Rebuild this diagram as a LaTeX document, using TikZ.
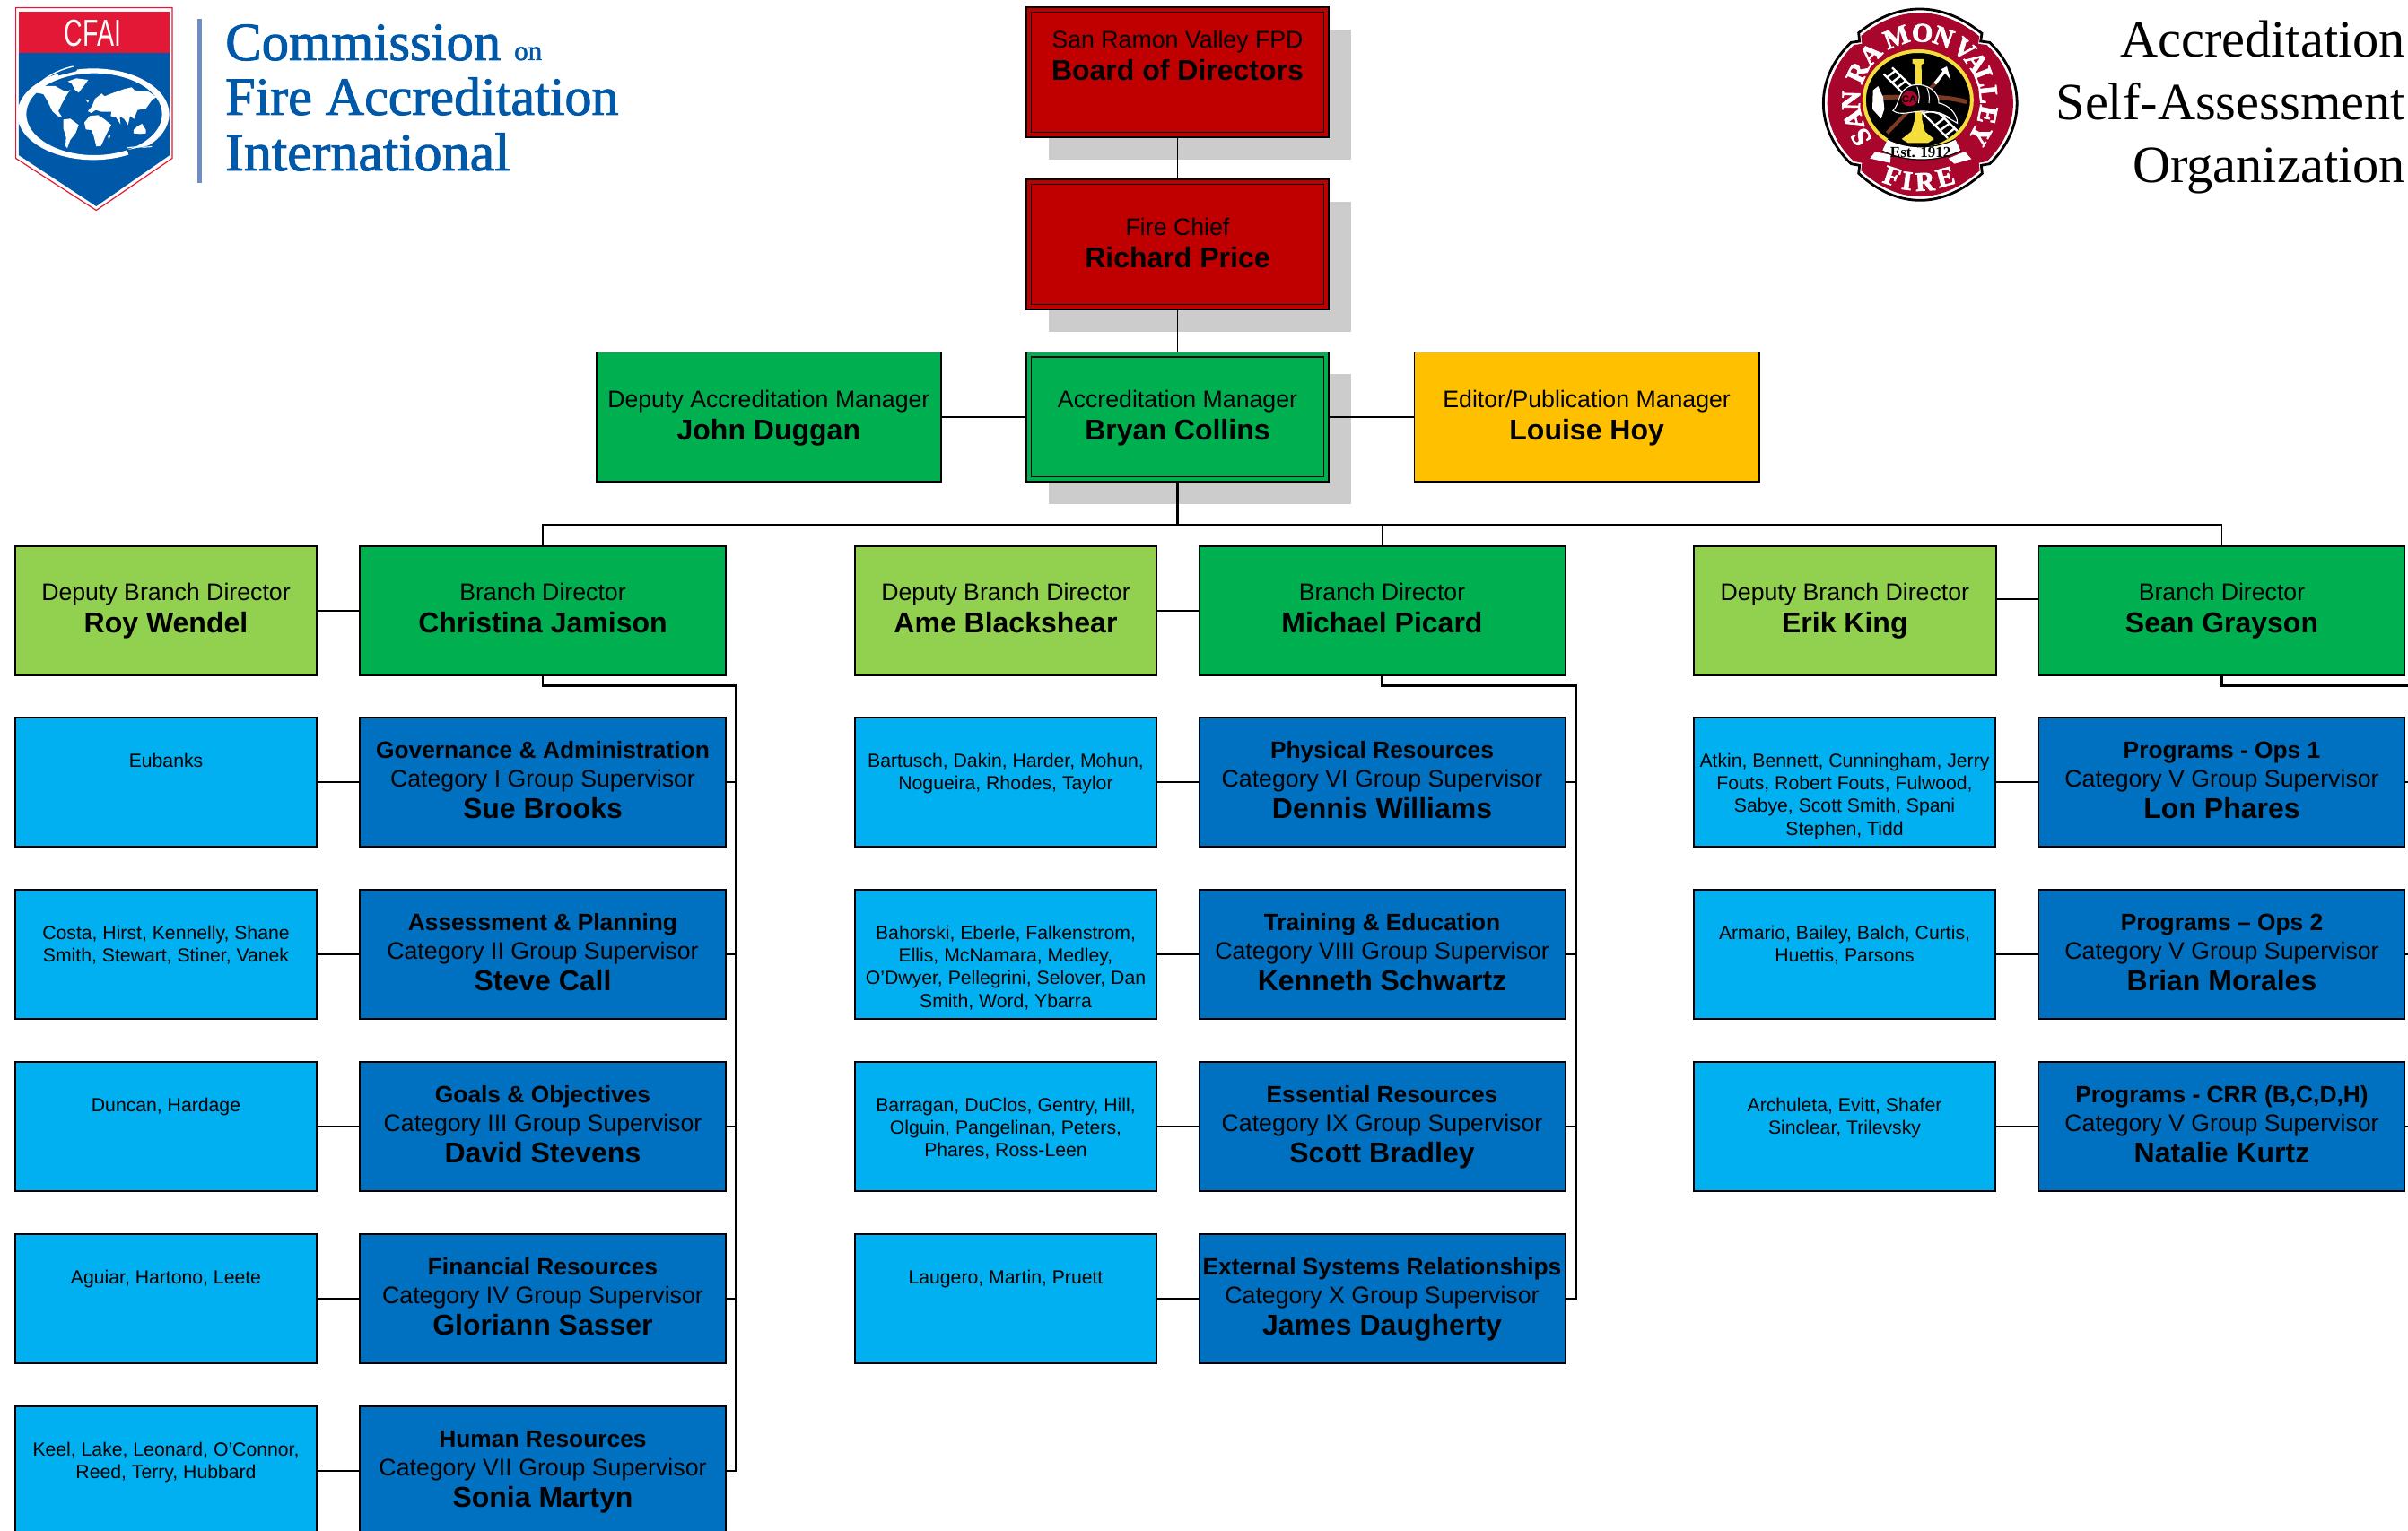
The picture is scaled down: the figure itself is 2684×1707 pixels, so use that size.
\documentclass[tikz,border=0pt]{standalone}
\usepackage{fontspec}
\usepackage{graphicx}
\usetikzlibrary{backgrounds}
\setmainfont{Liberation Sans}
\newfontfamily\serifface{Liberation Serif}
\newfontfamily\cfaiface[FakeBold=1.6]{Liberation Serif}
\newfontfamily\sealface[FakeBold=2.5]{Liberation Serif Bold}
\definecolor{chiefred}{HTML}{C00000}
\definecolor{mgrgreen}{HTML}{00B050}
\definecolor{depgreen}{HTML}{92D050}
\definecolor{supblue}{HTML}{0070C0}
\definecolor{teamblue}{HTML}{00B0F0}
\definecolor{edyellow}{HTML}{FFC000}
\definecolor{shadowgrey}{HTML}{CCCCCC}
\definecolor{cfaired}{HTML}{E31837}
\definecolor{cfaiblue}{HTML}{0058A8}
\definecolor{cfaibar}{HTML}{6F8CC4}
\definecolor{sealred}{HTML}{A8062C}
\definecolor{sealyellow}{HTML}{F5DE3C}
\definecolor{sealbrown}{HTML}{7A3B22}
\newcommand\fsmall{\fontsize{26.7}{36}\selectfont}
\newcommand\fbig{\fontsize{32}{36}\selectfont\bfseries}
\newcommand\TwoLine[5]{\parbox[c][#2pt][t]{#1pt}{\centering\rule{0pt}{#3pt}{\fsmall #4\par}{\fbig #5\par}}}
\newcommand\ThreeLine[3]{\parbox[c][144pt][t]{408pt}{\centering\rule{0pt}{45pt}{\fontsize{26.35}{32}\selectfont\bfseries #1\par}{\fontsize{26.7}{32}\selectfont #2\par}{\fontsize{32}{35.5}\selectfont\bfseries #3\par}}}
\newcommand\NameList[1]{\parbox[c][144pt][t]{336pt}{\centering\rule{0pt}{55pt}\fontsize{21.2}{25.4}\selectfont #1\par}}
\newcommand\sealshape{(140,110) .. controls (270,3) and (420,3) .. (552,112) -- (548,138) -- (578,142) .. controls (700,260) and (700,430) .. (578,548) -- (550,553) -- (553,580) .. controls (420,700) and (270,700) .. (140,580) -- (143,553) -- (115,548) .. controls (-9,430) and (-9,260) .. (115,142) -- (143,138) -- cycle}
\tikzset{
  orgbox/.style={rectangle,draw=black,line width=1.7pt,inner sep=0pt,outer sep=0pt,anchor=north west,text=black},
  topbox/.style={orgbox,fill=chiefred},
  ambox/.style={orgbox,fill=mgrgreen},
  branchbox/.style={orgbox,fill=mgrgreen},
  deputybox/.style={orgbox,fill=depgreen},
  editorbox/.style={orgbox,fill=edyellow},
  supbox/.style={orgbox,fill=supblue},
  teambox/.style={orgbox,fill=teamblue},
  conn/.style={draw=black,line width=1.8pt},
  trunk/.style={draw=black,line width=2.2pt},
  inner frame/.style={draw=black,line width=1.5pt},
  shadowfill/.style={fill=shadowgrey},
  cfaitext/.style={inner sep=0pt,anchor=base west,text=cfaiblue,font=\cfaiface\fontsize{60}{60}\selectfont},
  titletext/.style={inner sep=0pt,anchor=base east,font=\serifface\fontsize{58.4}{58}\selectfont},
  sealletter/.style={inner sep=0pt,text=white,font=\sealface\fontsize{30}{30}\selectfont},
}
\begin{document}
\begin{tikzpicture}[x=1pt,y=-1pt]
\path[use as bounding box,clip] (0,0) rectangle (2684,1707);

% ---------- CFAI logo ----------
\draw[cfaired,line width=1.2pt,fill=white] (17.6,8.5) -- (192,8.5) -- (192,176.5) -- (107.3,234.5) -- (17.6,176.5) -- cycle;
\fill[cfaiblue] (20.8,59) -- (189.2,59) -- (189.2,173) -- (107.3,230) -- (20.8,173) -- cycle;
\fill[cfaired] (20.8,13) rectangle (189.2,59);
\node[inner sep=0pt,text=white,font=\fontsize{42}{42}\selectfont] (cfaimark) at (103.5,36.7) {\scalebox{0.68}[1]{CFAI}};
\begin{scope}[shift={(10,50)},x=0.33333pt,y=-0.33333pt]
  \fill[white,even odd rule] (282,232) ellipse (254 and 153) (285,232) ellipse (227 and 137);
  \fill[cfaiblue] (170,68) -- (240,60) -- (225,88) -- (165,103) -- cycle;
  \fill[cfaiblue] (395,352) -- (500,330) -- (480,375) -- (410,395) -- cycle;
  \draw[white,line width=1.1pt] (395,345) .. controls (425,338) and (455,345) .. (478,340);
  \draw[white,line width=1.4pt] (100,130) .. controls (140,95) and (180,80) .. (215,72);
  \fill[white] (85,155) -- (110,138) -- (155,138) -- (180,152) -- (195,157) -- (205,150) -- (192,170) -- (178,195) -- (165,222) -- (178,243) -- (163,238) -- (145,222) -- (130,190) -- (115,165) -- (90,160) -- cycle;
  \fill[white] (197,122) -- (225,112) -- (265,117) -- (252,135) -- (233,160) -- (220,150) -- (210,130) -- cycle;
  \fill[white] (182,250) -- (205,247) -- (233,268) -- (223,295) -- (205,318) -- (195,346) -- (189,338) -- (191,310) -- (182,280) -- cycle;
  \fill[white] (252,260) -- (270,238) -- (298,235) -- (318,248) -- (342,268) -- (333,285) -- (323,305) -- (308,338) -- (292,340) -- (282,300) -- (275,285) -- (257,283) -- cycle;
  \fill[white] (264,222) -- (278,205) -- (288,180) -- (310,163) -- (320,172) -- (345,162) -- (385,148) -- (410,142) -- (420,152) -- (468,157) -- (492,175) -- (478,185) -- (458,213) -- (430,218) -- (418,248) -- (405,238) -- (398,268) -- (385,248) -- (370,238) -- (373,266) -- (358,243) -- (340,238) -- (343,224) -- (310,224) -- (290,218) -- (275,228) -- cycle;
  \fill[white] (417,285) -- (430,272) -- (445,264) -- (458,285) -- (458,296) -- (440,298) -- (417,296) -- cycle;
  \fill[white] (331,305) -- (339,303) -- (334,323) -- cycle;
  \fill[white] (256,182) -- (267,186) -- (264,194) -- cycle;
\end{scope}
\fill[cfaibar] (220,21) rectangle (224.5,204);
\node[cfaitext] (cfai1) at (251,67) {\scalebox{1.012}[1]{Commission}};
\node[inner sep=0pt,anchor=base west,text=cfaiblue,font=\cfaiface\fontsize{31}{31}\selectfont] (cfai1b) at (573,67) {on};
\node[cfaitext] (cfai2) at (251,128) {Fire Accreditation};
\node[cfaitext] (cfai3) at (251,190) {\scalebox{1.035}[1]{International}};

% ---------- Seal ----------
\begin{scope}[shift={(2025,0)},x=0.33333pt,y=-0.33333pt]
  \draw[black,line width=2.8pt,fill=white] \sealshape;
  \begin{scope}[shift={(347,350)},scale=0.96,shift={(-347,-350)}]
    \fill[sealred] \sealshape;
  \end{scope}
  \draw[sealyellow,line width=4pt,fill=black] (338.5,335) ellipse (180 and 164);
  \draw[sealbrown,line width=5pt,line cap=round] (225,325) .. controls (320,325) and (420,318) .. (497,340);
  \draw[sealbrown,line width=4pt] (235,445) -- (400,275);
  \draw[white,line width=3.5pt] (395,280) -- (430,235);
  \fill[white] (415,232) -- (435,222) -- (448,268) -- (432,248) -- cycle;
  \fill[white] (205,288) -- (188,302) -- (186,365) -- (215,397) -- (226,365) -- (222,325) -- cycle;
  \draw[white,line width=2.4pt] (224,248) -- (438,462);
  \draw[white,line width=2.4pt] (252,226) -- (470,438);
  \foreach \t in {0.05,0.13,0.21,0.80,0.88,0.96}{
    \draw[white,line width=2.4pt] ({224+\t*214},{248+\t*214}) -- ({252+\t*218},{226+\t*212});
  }
  \fill[sealyellow] (320,198) -- (358,198) -- (358,212) -- (350,216) -- (352,400) -- (362,440) -- (392,465) -- (372,478) -- (305,478) -- (284,465) -- (316,440) -- (328,400) -- (330,216) -- (320,212) -- cycle;
  \draw[white,line width=1.1pt,fill=black] (255,370) .. controls (280,345) and (268,300) .. (320,285) .. controls (370,275) and (410,310) .. (408,345) .. controls (440,350) and (470,380) .. (470,412) .. controls (440,395) and (410,375) .. (360,372) .. controls (320,370) and (280,390) .. (255,370) -- cycle;
  \fill[sealred] (310,330) ellipse (27 and 25);
  \node[inner sep=0pt,text=black,font=\bfseries\fontsize{11}{11}\selectfont] (sealca) at (309,331) {CA};
  \draw[white,line width=1pt] (340,345) .. controls (345,320) and (340,300) .. (335,290);
  \draw[white,line width=1pt] (375,345) .. controls (378,325) and (375,305) .. (368,293);
  \draw[white,line width=1.4pt] (360,378) .. controls (395,368) and (420,380) .. (445,395);
  \fill[white] (178,530) -- (195,508) -- (248,518) -- (245,545) -- cycle;
  \fill[white] (440,530) -- (495,507) -- (517,532) -- (460,548) -- cycle;
  \draw[black,line width=15.5pt] (228,485) .. controls (300,522) and (400,522) .. (472,485);
  \draw[white,line width=13pt] (228,485) .. controls (300,522) and (400,522) .. (472,485);
  \node[inner sep=0pt,text=black,font=\serifface\bfseries\fontsize{17}{17}\selectfont] (sealest) at (347,511) {Est. 1912};
  \foreach \l/\a in {S/211,A/195,N/179,R/155,A/136,M/110,O/88,N/70,V/50,A/35,L/21,L/6,E/-11,Y/-29}{
    \node[sealletter,rotate=\a-90] at ({345+230*cos(\a)},{340-230*sin(\a)}) {\l};
  }
  \node[sealletter,rotate=-18] (fire1) at (252,590) {F};
  \node[sealletter,rotate=-7] (fire2) at (302,605) {I};
  \node[sealletter,rotate=3] (fire3) at (362,608) {R};
  \node[sealletter,rotate=15] (fire4) at (430,592) {E};
\end{scope}
\node[titletext] (title1) at (2681,63.5) {Accreditation};
\node[titletext] (title2) at (2681,133.5) {Self-Assessment};
\node[titletext] (title3) at (2681,203.5) {Organization};

% ---------- Top of the chart ----------
\node[topbox] (bod) at (1144,8) {\TwoLine{337}{145}{46}{San Ramon Valley FPD}{Board of Directors}};
\node[topbox] (chief) at (1144,200) {\TwoLine{337}{145}{62}{Fire Chief}{Richard Price}};
\node[ambox] (am) at (1144,392.5) {\TwoLine{337}{144.5}{61.5}{Accreditation Manager}{Bryan Collins}};
\node[deputybox,fill=mgrgreen] (dam) at (664.7,392.5) {\TwoLine{384.3}{144.5}{61.5}{Deputy Accreditation Manager}{John Duggan}};
\node[editorbox] (ed) at (1576.5,392.5) {\TwoLine{384.3}{144.5}{61.5}{Editor/Publication Manager}{Louise Hoy}};

\foreach \b in {bod,chief,am}{
  \draw[inner frame] ([shift={(5.3,5.3)}]\b.north west) rectangle ([shift={(-5.3,-5.3)}]\b.south east);
}
\begin{scope}[on background layer]
  \fill[white] (0,0) rectangle (2684,1707);
  \foreach \b in {bod,chief,am}{
    \fill[shadowfill] ([shift={(24.7,24.7)}]\b.north west) rectangle ([shift={(24.7,24.7)}]\b.south east);
  }
\end{scope}

% ---------- Branches ----------
\node[deputybox] (dep1) at (17,609) {\TwoLine{336}{144}{60.5}{Deputy Branch Director}{Roy Wendel}};
\node[branchbox] (br1) at (401,609) {\TwoLine{408}{144}{60.5}{Branch Director}{Christina Jamison}};
\node[deputybox] (dep2) at (953,609) {\TwoLine{336}{144}{60.5}{Deputy Branch Director}{Ame Blackshear}};
\node[branchbox] (br2) at (1336.5,609) {\TwoLine{408}{144}{60.5}{Branch Director}{Michael Picard}};
\node[deputybox] (dep3) at (1888,609) {\TwoLine{336.7}{144}{60.5}{Deputy Branch Director}{Erik King}};
\node[branchbox] (br3) at (2272.5,609) {\TwoLine{408}{144}{60.5}{Branch Director}{Sean Grayson}};

% ---------- Column 1 ----------
\node[teambox] (n11) at (17,800) {\NameList{Eubanks}};
\node[teambox] (n12) at (17,992) {\NameList{Costa, Hirst, Kennelly, Shane\\Smith, Stewart, Stiner, Vanek}};
\node[teambox] (n13) at (17,1184) {\NameList{Duncan, Hardage}};
\node[teambox] (n14) at (17,1376) {\NameList{Aguiar, Hartono, Leete}};
\node[teambox] (n15) at (17,1568) {\NameList{Keel, Lake, Leonard, O’Connor,\\Reed, Terry, Hubbard}};
\node[supbox] (s11) at (401,800) {\ThreeLine{Governance \& Administration}{Category I Group Supervisor}{Sue Brooks}};
\node[supbox] (s12) at (401,992) {\ThreeLine{Assessment \& Planning}{Category II Group Supervisor}{Steve Call}};
\node[supbox] (s13) at (401,1184) {\ThreeLine{Goals \& Objectives}{Category III Group Supervisor}{David Stevens}};
\node[supbox] (s14) at (401,1376) {\ThreeLine{Financial Resources}{Category IV Group Supervisor}{Gloriann Sasser}};
\node[supbox] (s15) at (401,1568) {\ThreeLine{Human Resources}{Category VII Group Supervisor}{Sonia Martyn}};

% ---------- Column 2 ----------
\node[teambox] (n21) at (953,800) {\NameList{Bartusch, Dakin, Harder, Mohun,\\Nogueira, Rhodes, Taylor}};
\node[teambox] (n22) at (953,992) {\NameList{Bahorski, Eberle, Falkenstrom,\\Ellis, McNamara, Medley,\\O’Dwyer, Pellegrini, Selover, Dan\\Smith, Word, Ybarra}};
\node[teambox] (n23) at (953,1184) {\NameList{Barragan, DuClos, Gentry, Hill,\\Olguin, Pangelinan, Peters,\\Phares, Ross-Leen}};
\node[teambox] (n24) at (953,1376) {\NameList{Laugero, Martin, Pruett}};
\node[supbox] (s21) at (1336.5,800) {\ThreeLine{Physical Resources}{Category VI Group Supervisor}{Dennis Williams}};
\node[supbox] (s22) at (1336.5,992) {\ThreeLine{Training \& Education}{Category VIII Group Supervisor}{Kenneth Schwartz}};
\node[supbox] (s23) at (1336.5,1184) {\ThreeLine{Essential Resources}{Category IX Group Supervisor}{Scott Bradley}};
\node[supbox] (s24) at (1336.5,1376) {\ThreeLine{External Systems Relationships}{Category X Group Supervisor}{James Daugherty}};

% ---------- Column 3 ----------
\node[teambox] (n31) at (1888,800) {\NameList{Atkin, Bennett, Cunningham, Jerry\\Fouts, Robert Fouts, Fulwood,\\Sabye, Scott Smith, Spani\\Stephen, Tidd}};
\node[teambox] (n32) at (1888,992) {\NameList{Armario, Bailey, Balch, Curtis,\\Huettis, Parsons}};
\node[teambox] (n33) at (1888,1184) {\NameList{Archuleta, Evitt, Shafer\\Sinclear, Trilevsky}};
\node[supbox] (s31) at (2272.5,800) {\ThreeLine{Programs - Ops 1}{Category V Group Supervisor}{Lon Phares}};
\node[supbox] (s32) at (2272.5,992) {\ThreeLine{Programs – Ops 2}{Category V Group Supervisor}{Brian Morales}};
\node[supbox] (s33) at (2272.5,1184) {\ThreeLine{Programs - CRR (B,C,D,H)}{Category V Group Supervisor}{Natalie Kurtz}};

% ---------- Connectors ----------
\coordinate (bus) at (1312.5,584.7);
\coordinate (spineA) at (820.5,764.4);
\coordinate (spineAend) at (820.5,1640);
\coordinate (spineB) at (1756.7,764.4);
\coordinate (spineBend) at (1756.7,1448);
\coordinate (spineC) at (2684,764.4);
\coordinate (edgeA) at (2684,872);
\coordinate (edgeB) at (2684,1064);
\coordinate (edgeC) at (2684,1256);

\draw[conn] (bod.south) -- (chief.north);
\draw[conn] (chief.south) -- (am.north);
\draw[conn] (dam.east) -- (am.west);
\draw[conn] (am.east) -- (ed.west);
\draw[trunk] (am.south) -- (bus);
\draw[conn] (br1.north) |- (bus) -| (br3.north);
\draw[conn] (br2.north) -- (br2.north |- bus);
\draw[conn] (dep1.east) -- (br1.west);
\draw[conn] (dep2.east) -- (br2.west);
\draw[conn] ([yshift=12.7pt]dep3.east) -- ([yshift=12.7pt]br3.west);

\draw[trunk] (br1.south) |- (spineA) -- (spineAend) -- (s15.east |- spineAend);
\draw[trunk] (br2.south) |- (spineB) -- (spineBend) -- (s24.east |- spineBend);
\draw[trunk] (br3.south) |- (spineC);

\foreach \r in {1,...,5}{
  \draw[conn] (n1\r.east) -- (s1\r.west);
}
\foreach \r in {1,...,4}{
  \draw[conn] (s1\r.east) -- (s1\r.east -| spineA);
  \draw[conn] (n2\r.east) -- (s2\r.west);
}
\foreach \r in {1,2,3}{
  \draw[conn] (s2\r.east) -- (s2\r.east -| spineB);
  \draw[conn] (n3\r.east) -- (s3\r.west);
}
\draw[conn] (s31.east) -- (edgeA);
\draw[conn] (s32.east) -- (edgeB);
\draw[conn] (s33.east) -- (edgeC);
\end{tikzpicture}
\end{document}
